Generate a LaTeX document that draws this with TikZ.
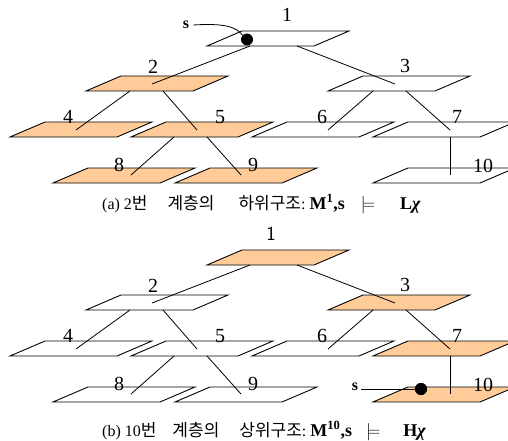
\documentclass[tikz,border=0pt]{standalone}
\usepackage{fontspec}
\setmainfont{Liberation Serif}
\newfontfamily\krfont{Noto Sans CJK KR}
\newcommand\kr{\krfont\fontsize{17}{17}\selectfont}
\newcommand\bigbf{\bfseries\fontsize{18}{18}\selectfont}
\definecolor{peach}{HTML}{FFCC99}
\tikzset{
  pg/.style={draw=black, line width=0.9pt, fill=white, line join=miter},
  pgon/.style={pg, fill=peach},
  link/.style={draw=black, line width=0.8pt},
  num/.style={font=\fontsize{20}{20}\selectfont, inner sep=0pt},
  slab/.style={font=\bfseries\fontsize{16}{16}\selectfont, inner sep=0pt},
  blackdot/.style={circle, fill=black, inner sep=0pt, minimum size=12pt},
  captext/.style={font=\fontsize{16}{16}\selectfont, inner sep=0pt, anchor=base west}
}
% #1 name, #2 x of bottom-left corner, #3 y of top edge, #4 style
\newcommand\pgm[4]{%
  \path[#4] (#2,#3+15) -- ++(107,0) -- ++(35,-15) -- ++(-107,0) -- cycle;
  \coordinate (#1) at (#2+71,#3+7.5);
}
% #1 prefix
\newcommand\treebody[1]{%
  \pgm{#1n1}{207}{31}{n1}
  \pgm{#1n2}{86}{76}{n2}
  \pgm{#1n3}{328}{76}{n3}
  \pgm{#1n4}{10}{122}{n4}
  \pgm{#1n5}{131}{122}{n5}
  \pgm{#1n6}{252}{122}{n6}
  \pgm{#1n7}{373}{122}{n7}
  \pgm{#1n8}{53}{168}{n8}
  \pgm{#1n9}{175}{168}{n9}
  \pgm{#1n10}{373}{168}{n10}
  \coordinate (#1o12) at (250,46);  \coordinate (#1i2) at (152,84);
  \coordinate (#1o13) at (297,46);  \coordinate (#1i3) at (395,84);
  \coordinate (#1o24) at (130,91);  \coordinate (#1i4) at (76,130);
  \coordinate (#1o25) at (163,91);  \coordinate (#1i5) at (197,130);
  \coordinate (#1o36) at (373,91);  \coordinate (#1i6) at (328,130);
  \coordinate (#1o37) at (406,91);  \coordinate (#1i7) at (450,130);
  \coordinate (#1o58) at (174,137); \coordinate (#1i8) at (131,175);
  \coordinate (#1o59) at (207,137); \coordinate (#1i9) at (241,175);
  \coordinate (#1o710) at (450,137); \coordinate (#1i10) at (450,175);
  \draw[link] (#1o12) -- (#1i2);
  \draw[link] (#1o13) -- (#1i3);
  \draw[link] (#1o24) -- (#1i4);
  \draw[link] (#1o25) -- (#1i5);
  \draw[link] (#1o36) -- (#1i6);
  \draw[link] (#1o37) -- (#1i7);
  \draw[link] (#1o58) -- (#1i8);
  \draw[link] (#1o59) -- (#1i9);
  \draw[link] (#1o710) -- (#1i10);
  \node[num] (#1l2) at (153,67) {2};
  \node[num] (#1l3) at (405,66) {3};
  \node[num] (#1l4) at (68,117) {4};
  \node[num] (#1l5) at (220,117) {5};
  \node[num] (#1l6) at (322,117) {6};
  \node[num] (#1l7) at (457,117) {7};
  \node[num] (#1l8) at (119,165) {8};
  \node[num] (#1l9) at (253,165) {9};
  \node[num] (#1l10) at (483,166) {10};
}
\begin{document}
\begin{tikzpicture}[x=1pt,y=-1pt]
\useasboundingbox (0,0) rectangle (508,441);
% ---------- (a)
\begin{scope}[n1/.style=pg, n2/.style=pgon, n3/.style=pg, n4/.style=pgon,
  n5/.style=pgon, n6/.style=pg, n7/.style=pg, n8/.style=pgon, n9/.style=pgon, n10/.style=pg]
  \treebody{a}
  \node[num] (al1) at (287,15) {1};
  \node[blackdot] (adot) at (247,39.5) {};
  \node[slab] (as) at (186,25) {s};
  \draw[link] (as.east) ++(4,0) coordinate (asx) (asx) .. controls (225,23) and (236,27) .. (adot.north west);
  \node[captext] (capa) at (102,209) {(a) 2{\kr 번}\hspace{20pt}{\kr 계층의}\hspace{24pt}{\kr 하위구조}:\hspace{4pt}{\bigbf M\textsuperscript{1},s}\hspace{16pt}$\models$\hspace{25pt}{\bigbf L\textit{χ}}};
\end{scope}
% ---------- (b)
\begin{scope}[shift={(0,219)}, n1/.style=pgon, n2/.style=pg, n3/.style=pgon, n4/.style=pg,
  n5/.style=pg, n6/.style=pg, n7/.style=pgon, n8/.style=pg, n9/.style=pg, n10/.style=pgon]
  \treebody{b}
  \node[num, font=\sffamily\fontsize{20}{20}\selectfont] (bl1) at (271,15) {1};
  \node[blackdot] (bdot) at (421,170) {};
  \node[slab] (bs) at (355,168) {s};
  \draw[link] (bs.east) ++(3,2) coordinate (bsx) (bsx) -- (bdot);
  \node[blackdot] at (bdot) {};
  \node[captext] (capb) at (102,217) {(b) 10{\kr 번}\hspace{16pt}{\kr 계층의}\hspace{20pt}{\kr 상위구조}:\hspace{4pt}{\bigbf M\textsuperscript{10},s}\hspace{14pt}$\models$\hspace{23pt}{\bigbf H\textit{χ}}};
\end{scope}
\end{tikzpicture}
\end{document}
